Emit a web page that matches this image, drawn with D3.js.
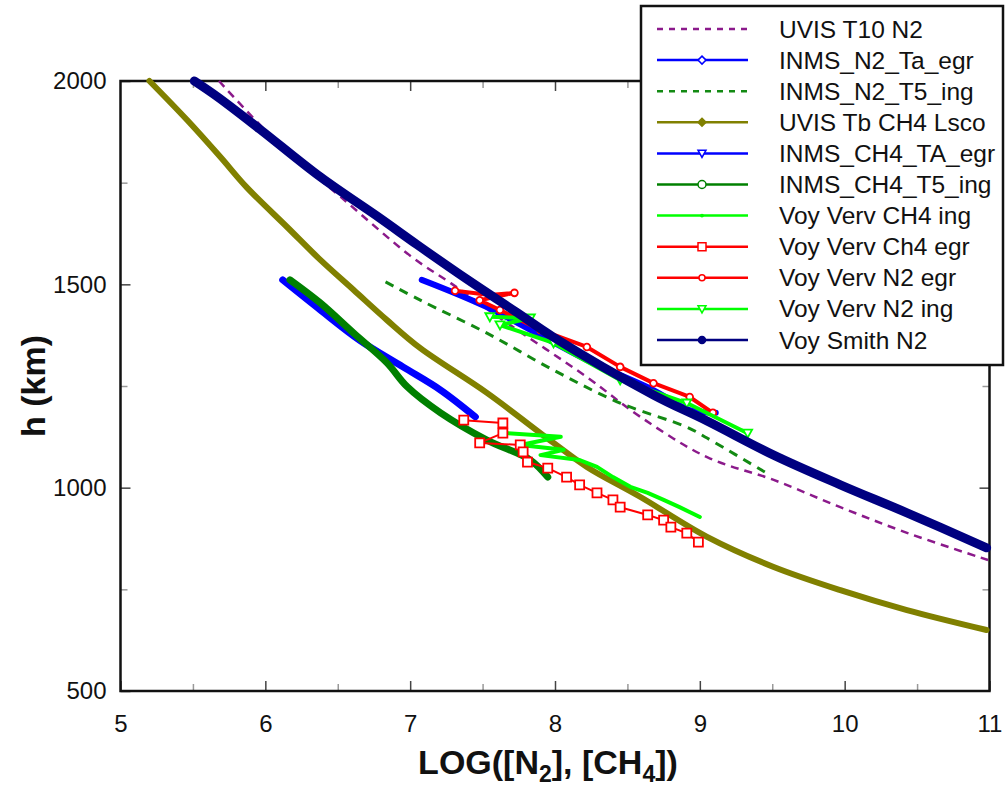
<!DOCTYPE html>
<meta charset="utf-8">
<style>
    body { margin: 0; background: #fff; }
    svg text { font-family: "Liberation Sans", Arial, sans-serif; fill: #111; }
</style>
<body>
<script src="https://d3js.org/d3.v7.min.js"></script>
<script>
// [log density, altitude km]
var uvisT10N2 = [[5.68,2000],[6.10,1843],[6.52,1715],[7.02,1565],[7.28,1503],[7.64,1412],[8.22,1272],[8.59,1174],[9.05,1075],[9.51,1019],[9.97,952],[10.43,889],[10.99,822]];
var inmsN2TaEgr = [[7.08,1511],[7.53,1444],[8.22,1314],[8.68,1240],[8.93,1191],[9.11,1184]];
var inmsN2T5Ing = [[6.83,1506],[7.07,1461],[7.53,1380],[7.99,1289],[8.45,1208],[8.91,1149],[9.05,1122],[9.46,1036]];
var uvisTbCH4 = [[5.20,2000],[5.46,1904],[5.69,1813],[5.87,1739],[6.15,1641],[6.38,1560],[6.61,1486],[6.84,1412],[7.07,1343],[7.53,1233],[7.99,1110],[8.22,1051],[8.59,977],[9.05,879],[9.51,805],[9.97,748],[10.43,699],[10.98,650]];
var inmsCH4TaEgr = [[6.12,1511],[6.38,1437],[6.65,1363],[6.95,1297],[7.21,1240],[7.45,1174]];
var inmsCH4T5Ing = [[6.17,1511],[6.38,1454],[6.61,1380],[6.84,1307],[6.98,1248],[7.21,1184],[7.53,1117],[7.83,1068],[7.95,1026]];
var voyCH4Ing = [[7.67,1134],[8.04,1125],[7.76,1105],[8.06,1093],[7.90,1080],[8.17,1068],[8.29,1051],[8.40,1026],[8.52,1002],[8.64,987],[8.75,970],[8.86,952],[9.00,928]];
var voyCH4Egr = [[7.37,1166],[7.64,1159],[7.64,1134],[7.48,1110],[7.76,1105],[7.78,1088],[7.81,1063],[7.95,1048],[8.08,1026],[8.17,1007],[8.29,987],[8.40,970],[8.45,952],[8.64,933],[8.75,920],[8.80,903],[8.91,888],[8.99,866]];
var voyN2Egr = [[7.31,1484],[7.55,1474],[7.72,1479],[7.48,1461],[7.62,1437],[7.90,1388],[8.22,1346],[8.45,1297],[8.68,1257],[8.93,1223],[9.09,1184]];
var voyN2Ing = [[7.55,1420],[7.83,1417],[7.62,1400],[7.99,1356],[8.45,1265],[8.91,1208],[9.33,1134]];
var voySmithN2 = [[5.51,2000],[5.67,1961],[5.96,1882],[6.38,1764],[6.79,1663],[7.05,1597],[7.39,1513],[7.74,1430],[7.99,1370],[8.68,1228],[9.05,1164],[9.51,1080],[9.97,1007],[10.43,938],[10.98,852]];

var seriesNames = ["UVIS T10 N2", "INMS_N2_Ta_egr", "INMS_N2_T5_ing", "UVIS Tb CH4 Lsco", "INMS_CH4_TA_egr",
    "INMS_CH4_T5_ing", "Voy Verv CH4 ing", "Voy Verv Ch4 egr", "Voy Verv N2 egr", "Voy Verv N2 ing", "Voy Smith N2"];
var seriesData = [uvisT10N2, inmsN2TaEgr, inmsN2T5Ing, uvisTbCH4, inmsCH4TaEgr, inmsCH4T5Ing,
    voyCH4Ing, voyCH4Egr, voyN2Egr, voyN2Ing, voySmithN2];
var xMajor = [5, 6, 7, 8, 9, 10, 11];
var yMajor = [500, 1000, 1500, 2000];

// look of each series: colour, plot width, dash, marker, smooth curve or not
var styles = [
    { c: "#8b1a8b", w: 2.5, dash: "8,6", m: null, smooth: true },
    { c: "#0000ff", w: 6, m: "diamond", open: true, smooth: true },
    { c: "#138a13", w: 3, dash: "9,7", m: null, smooth: true },
    { c: "#808000", w: 6, m: "diamond", smooth: true },
    { c: "#0000ff", w: 7, m: "tri", open: true, smooth: true },
    { c: "#008000", w: 7, m: "circle", open: true, smooth: true },
    { c: "#00ff00", w: 4, m: "small" },
    { c: "#ff0000", w: 2, m: "square", open: true, plotMarks: true },
    { c: "#ff0000", w: 4, m: "circleSmall", open: true, plotMarks: true },
    { c: "#00ff00", w: 4, m: "tri", open: true, plotMarks: true },
    { c: "#000080", w: 9, m: "circle", smooth: true }
];

var width = 1005, height = 788;
var svg = d3.select("body").append("svg")
    .attr("width", width)
    .attr("height", height);

var x = d3.scaleLinear().domain([5, 11]).range([120.5, 989.5]);
var y = d3.scaleLinear().domain([500, 2000]).range([691, 81]);

var xMinor = d3.range(5.5, 11, 1);
var yMinor = d3.range(750, 2000, 500);

function styleAxis(g, col, w) {
    g.select(".domain").remove();
    g.selectAll(".tick line").attr("stroke", col).attr("stroke-width", w);
    g.selectAll("text").style("font-size", "24px").attr("fill", "#111");
}

// minor ticks
svg.append("g").attr("transform", "translate(0,691)")
    .call(d3.axisBottom(x).tickValues(xMinor).tickSize(-7).tickFormat(""))
    .call(styleAxis, "#999", 1.5);
svg.append("g").attr("transform", "translate(0,81)")
    .call(d3.axisTop(x).tickValues(xMinor).tickSize(-7).tickFormat(""))
    .call(styleAxis, "#999", 1.5);
svg.append("g").attr("transform", "translate(120.5,0)")
    .call(d3.axisLeft(y).tickValues(yMinor).tickSize(-7).tickFormat(""))
    .call(styleAxis, "#999", 1.5);
svg.append("g").attr("transform", "translate(989.5,0)")
    .call(d3.axisRight(y).tickValues(yMinor).tickSize(-7).tickFormat(""))
    .call(styleAxis, "#999", 1.5);

// major ticks
svg.append("g").attr("transform", "translate(0,691)")
    .call(d3.axisBottom(x).tickValues(xMajor).tickSize(-10).tickPadding(24).tickFormat(d3.format("d")))
    .call(styleAxis, "#444", 1.5);
svg.append("g").attr("transform", "translate(0,81)")
    .call(d3.axisTop(x).tickValues(xMajor.slice(1, -1)).tickSize(-10).tickFormat(""))
    .call(styleAxis, "#444", 1.5);
svg.append("g").attr("transform", "translate(120.5,0)")
    .call(d3.axisLeft(y).tickValues(yMajor).tickSize(-10).tickPadding(14).tickFormat(d3.format("d")))
    .call(styleAxis, "#444", 1.5);
svg.append("g").attr("transform", "translate(989.5,0)")
    .call(d3.axisRight(y).tickValues(yMajor.slice(1, -1)).tickSize(-10).tickFormat(""))
    .call(styleAxis, "#444", 1.5);

// frame
svg.append("rect")
    .attr("x", x(5)).attr("y", y(2000))
    .attr("width", x(11) - x(5)).attr("height", y(500) - y(2000))
    .attr("fill", "none").attr("stroke", "#111").attr("stroke-width", 2.5);

var line = d3.line()
    .x(function (d) { return x(d[0]); })
    .y(function (d) { return y(d[1]); });
var smoothLine = d3.line()
    .curve(d3.curveCatmullRom.alpha(0.5))
    .x(function (d) { return x(d[0]); })
    .y(function (d) { return y(d[1]); });

function markerPath(type, s) {
    if (type == "diamond") return "M0," + (-s) + "L" + s + ",0L0," + s + "L" + (-s) + ",0Z";
    if (type == "tri") return "M" + (-s) + "," + (-s * 0.8) + "L" + s + "," + (-s * 0.8) + "L0," + s + "Z";
    if (type == "square") return "M" + (-s) + "," + (-s) + "h" + 2 * s + "v" + 2 * s + "h" + (-2 * s) + "Z";
    var r = type == "small" ? s * 0.4 : (type == "circleSmall" ? s * 0.75 : s);
    return "M" + r + ",0A" + r + "," + r + " 0 1,1 " + (-r) + ",0A" + r + "," + r + " 0 1,1 " + r + ",0Z";
}

var plot = svg.append("g");
seriesData.forEach(function (data, i) {
    var st = styles[i];
    plot.append("path")
        .datum(data)
        .attr("d", st.smooth ? smoothLine : line)
        .attr("fill", "none")
        .attr("stroke", st.c)
        .attr("stroke-width", st.w)
        .attr("stroke-linejoin", "round")
        .attr("stroke-linecap", st.dash ? "butt" : "round")
        .attr("stroke-dasharray", st.dash || null);
    if (st.plotMarks) {
        plot.selectAll(".m" + i)
            .data(data)
            .enter().append("path")
            .attr("transform", function (d) { return "translate(" + x(d[0]) + "," + y(d[1]) + ")"; })
            .attr("d", markerPath(st.m, 4.5))
            .attr("fill", "#fff")
            .attr("stroke", st.c)
            .attr("stroke-width", 1.8);
    }
});

// axis titles
var xt = svg.append("text")
    .attr("x", 548).attr("y", 774)
    .attr("text-anchor", "middle")
    .style("font-size", "34px").style("font-weight", "bold");
xt.append("tspan").text("LOG([N");
xt.append("tspan").attr("dy", 8).style("font-size", "23px").text("2");
xt.append("tspan").attr("dy", -8).text("], [CH");
xt.append("tspan").attr("dy", 8).style("font-size", "23px").text("4");
xt.append("tspan").attr("dy", -8).text("])");

svg.append("text")
    .attr("transform", "translate(45,386) rotate(-90)")
    .attr("text-anchor", "middle")
    .style("font-size", "34px").style("font-weight", "bold")
    .text("h (km)");

// legend
var lg = svg.append("g");
lg.append("rect")
    .attr("x", 641).attr("y", 6).attr("width", 362).attr("height", 359)
    .attr("fill", "#fff").attr("stroke", "#111").attr("stroke-width", 2.5);

seriesNames.forEach(function (name, i) {
    var st = styles[i];
    var cy = 29 + i * 31.1;
    lg.append("line")
        .attr("x1", 657).attr("x2", 748).attr("y1", cy).attr("y2", cy)
        .attr("stroke", st.c).attr("stroke-width", 2.5)
        .attr("stroke-dasharray", st.dash ? "6,6" : null);
    if (st.m) {
        var s = st.m == "small" ? 3 : (st.m == "circle" && !st.open ? 3.5 : 4);
        lg.append("path")
            .attr("transform", "translate(702," + cy + ")")
            .attr("d", markerPath(st.m, s))
            .attr("fill", st.open ? "#fff" : st.c)
            .attr("stroke", st.c)
            .attr("stroke-width", 1.5);
    }
    lg.append("text")
        .attr("x", 779).attr("y", cy + 8.5)
        .style("font-size", "24.5px")
        .text(name);
});
</script>
